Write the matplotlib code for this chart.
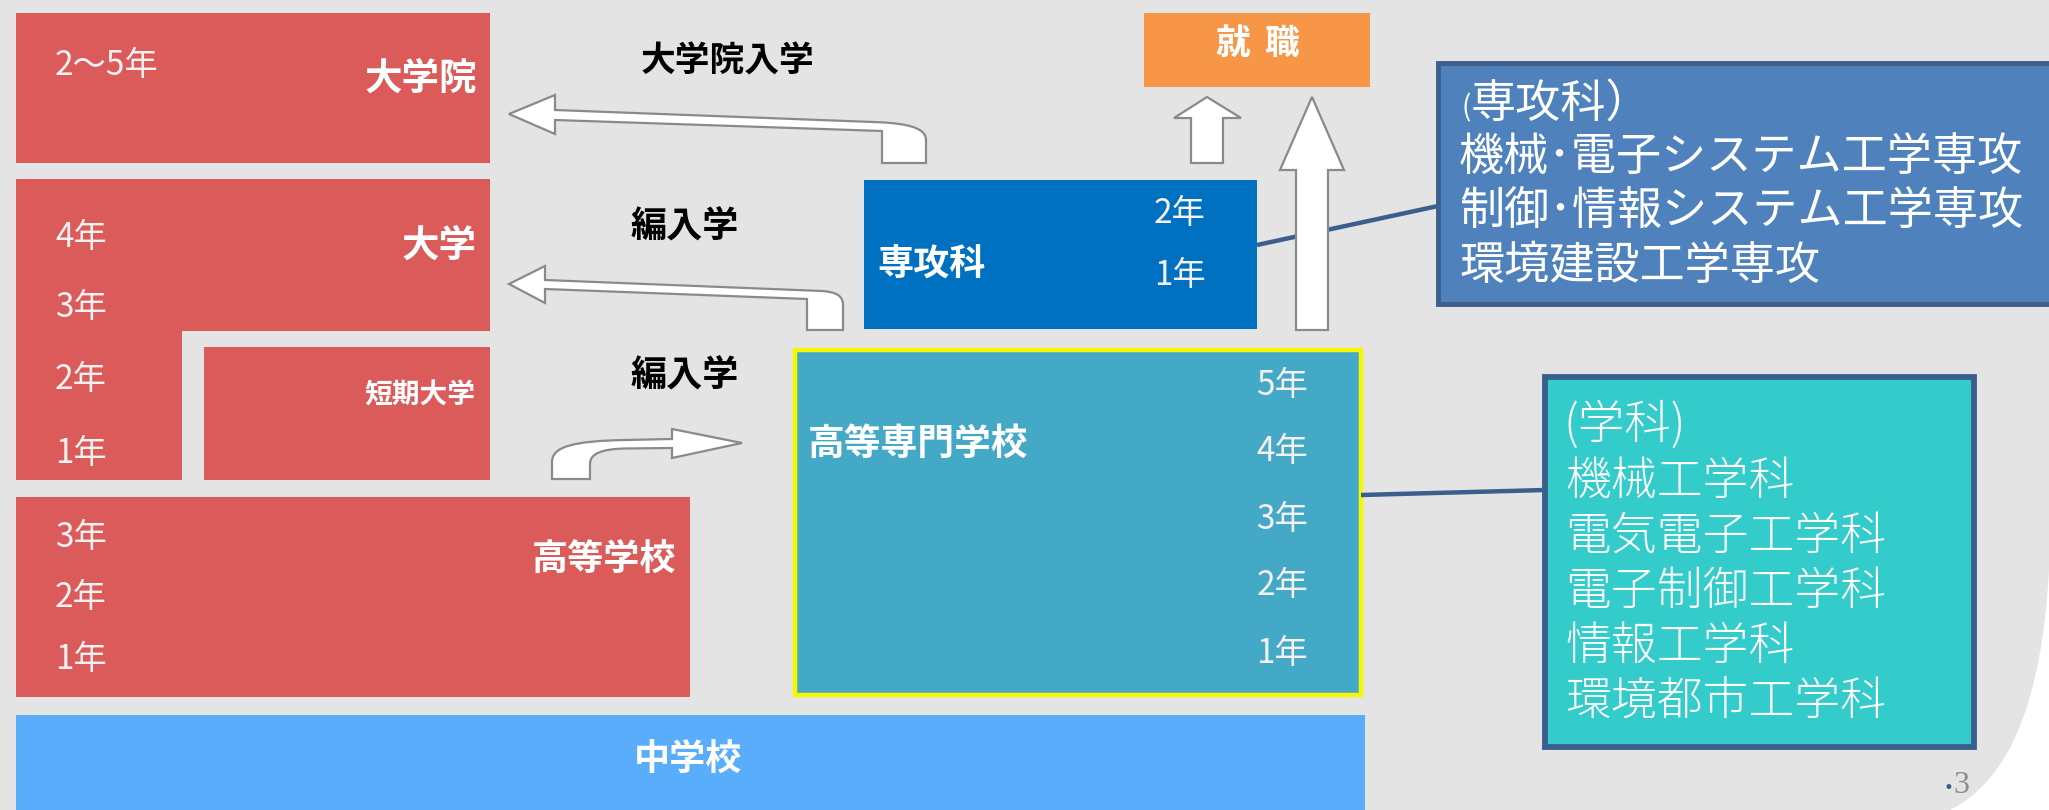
"""
Diagram: route from 中学校 through 高等専門学校 / 専攻科 to 大学・大学院・就職.
Coordinates are pixels of the 2049x810 slide, y grows downwards.
"""

import matplotlib
matplotlib.use("Agg")
import matplotlib.pyplot as plt
from matplotlib.patches import Rectangle, Polygon, PathPatch
from matplotlib.path import Path

plt.rcParams["font.family"] = ["Noto Sans CJK JP", "DejaVu Sans"]

# ── Text content ──────────────────────────────────────────────────────────────
UNIV_YEARS    = ["4年", "3年", "2年", "1年"]
HIGH_YEARS    = ["3年", "2年", "1年"]
SENKO_YEARS   = ["2年", "1年"]
KOSEN_YEARS   = ["5年", "4年", "3年", "2年", "1年"]
SENKO_COURSES = ["機械･電子システム工学専攻", "制御･情報システム工学専攻", "環境建設工学専攻"]
DEPARTMENTS   = ["機械工学科", "電気電子工学科", "電子制御工学科", "情報工学科", "環境都市工学科"]

# ── Colours ───────────────────────────────────────────────────────────────────
BG      = "#E4E4E4"
RED     = "#DB5B5B"
JHS     = "#5AADFB"
SENKO   = "#0070C0"
JOB     = "#F79646"
KOSEN   = "#43A9C7"
YELLOW  = "#F7F700"
TEAL    = "#33CCCA"
INFO    = "#4F81BD"
NAVY    = "#3B5E8C"
ARROW_E = "#8A8A8A"
WHITE   = "white"
YEAR_C  = "#F6F1F1"

fig = plt.figure(figsize=(20.49, 8.10), dpi=100, facecolor=BG)
ax = fig.add_axes([0, 0, 1, 1])
ax.set_xlim(0, 2049)
ax.set_ylim(810, 0)
ax.axis("off")
ax.set_facecolor(BG)

# white rounded corner, bottom right
corner = Path([(2049, 570), (2042, 700), (2010, 780), (1950, 810),
               (2049, 810), (2049, 570)],
              [Path.MOVETO, Path.CURVE4, Path.CURVE4, Path.CURVE4,
               Path.LINETO, Path.CLOSEPOLY])
ax.add_patch(PathPatch(corner, facecolor=WHITE, edgecolor="none", zorder=0))


def box(x0, y0, x1, y1, fc, ec="none", lw=0, z=2):
    ax.add_patch(Rectangle((x0, y0), x1 - x0, y1 - y0, facecolor=fc,
                           edgecolor=ec, linewidth=lw, zorder=z))


# ── Left column: 大学院 / 大学 / 短期大学 / 高等学校 / 中学校 ──────────────────
box(16, 13, 490, 163, RED)
ax.add_patch(Polygon([(16, 179), (490, 179), (490, 331), (182, 331),
                      (182, 480), (16, 480)], closed=True,
                     facecolor=RED, edgecolor="none", zorder=2))
box(204, 347, 490, 480, RED)
box(16, 497, 690, 697, RED)
box(16, 715, 1365, 815, JHS)

# ── Middle / right blocks ─────────────────────────────────────────────────────
box(864, 180, 1257, 329, SENKO)
box(1144, 13, 1370, 87, JOB)
box(795, 350, 1361, 695, KOSEN, ec=YELLOW, lw=3.2, z=3)
box(1545, 377, 1974, 747, TEAL, ec=NAVY, lw=4.2, z=3)
box(1438, 63, 2060, 304, INFO, ec=NAVY, lw=3.5, z=3)

# connector lines
ax.plot([1257, 1438], [245, 206], color=NAVY, lw=3.2, zorder=4,
        solid_capstyle="butt")
ax.plot([1361, 1545], [495, 490], color=NAVY, lw=3.2, zorder=4,
        solid_capstyle="butt")

# ── Block arrows ──────────────────────────────────────────────────────────────
M, L, C = Path.MOVETO, Path.LINETO, Path.CURVE4


def arrow(verts, codes):
    ax.add_patch(PathPatch(Path(verts, codes), facecolor=WHITE,
                           edgecolor=ARROW_E, linewidth=1.6, zorder=5))


# 専攻科 -> 大学院
arrow([(509, 114), (555, 95), (555, 110), (873, 122),
       (905, 123), (926, 127), (926, 140),
       (926, 163), (882, 163), (882, 131), (555, 120), (555, 134), (509, 114)],
      [M, L, L, L, C, C, C, L, L, L, L, L, Path.CLOSEPOLY])

# 高専 -> 大学 (編入学)
arrow([(509, 284), (545, 266), (545, 280), (822, 291),
       (835, 292), (843, 295), (843, 305),
       (843, 330), (807, 330), (807, 299), (545, 289), (545, 303), (509, 284)],
      [M, L, L, L, C, C, C, L, L, L, L, L, Path.CLOSEPOLY])

# 短期大学 -> 高専 (編入学)
arrow([(742, 443), (672, 429), (672, 439), (625, 440),
       (572, 441), (552, 447), (552, 462),
       (552, 479), (590, 479), (590, 464),
       (590, 453), (603, 449), (625, 448.5),
       (672, 448), (672, 458), (742, 443)],
      [M, L, L, L, C, C, C, L, L, L, C, C, C, L, L, Path.CLOSEPOLY])

# up to 就職
arrow([(1207, 97), (1241, 118), (1223, 118), (1223, 163), (1191, 163),
       (1191, 118), (1174, 118), (1207, 97)],
      [M, L, L, L, L, L, L, Path.CLOSEPOLY])
arrow([(1312, 97), (1344, 170), (1328, 170), (1328, 330), (1296, 330),
       (1296, 170), (1280, 170), (1312, 97)],
      [M, L, L, L, L, L, L, Path.CLOSEPOLY])

# ── Labels ────────────────────────────────────────────────────────────────────
BOLD = dict(fontweight="bold", zorder=6)
YR = 24
ax.text(55, 66, "2～5年", fontsize=YR, color=YEAR_C, va="center", zorder=6)
ax.text(477, 78, "大学院", fontsize=27, color=WHITE, ha="right", va="center", **BOLD)
ax.text(477, 245, "大学", fontsize=27, color=WHITE, ha="right", va="center", **BOLD)
ax.text(475, 395, "短期大学", fontsize=20, color=WHITE, ha="right", va="center", **BOLD)
ax.text(676, 560, "高等学校", fontsize=26, color=WHITE, ha="right", va="center", **BOLD)
ax.text(688, 760, "中学校", fontsize=26, color=WHITE, ha="center", va="center", **BOLD)
ax.text(877, 265, "専攻科", fontsize=26, color=WHITE, ha="left", va="center", **BOLD)
ax.text(808, 444, "高等専門学校", fontsize=26.5, color=WHITE, ha="left", va="center", **BOLD)
ax.text(1233, 43, "就", fontsize=25, color=WHITE, ha="center", va="center", **BOLD)
ax.text(1282, 43, "職", fontsize=25, color=WHITE, ha="center", va="center", **BOLD)

ax.text(728, 61, "大学院入学", fontsize=25, color="black", ha="center", va="center", **BOLD)
ax.text(685, 227, "編入学", fontsize=26, color="black", ha="center", va="center", **BOLD)
ax.text(685, 376, "編入学", fontsize=26, color="black", ha="center", va="center", **BOLD)

for lab, y in zip(UNIV_YEARS, [237, 307, 380, 454]):
    ax.text(55, y, lab, fontsize=YR, color=YEAR_C, va="center", zorder=6)
for lab, y in zip(HIGH_YEARS, [537, 598, 660]):
    ax.text(55, y, lab, fontsize=YR, color=YEAR_C, va="center", zorder=6)
for lab, y in zip(SENKO_YEARS, [214, 276]):
    ax.text(1154, y, lab, fontsize=YR, color=YEAR_C, va="center", zorder=6)
for lab, y in zip(KOSEN_YEARS, [386, 452, 519, 586, 654]):
    ax.text(1308, y, lab, fontsize=YR, color=YEAR_C, ha="right", va="center", zorder=6)

# 専攻科 info box
ax.text(1462, 108, "(", fontsize=20, color=WHITE, va="center", zorder=6)
ax.text(1471, 104, "専攻科）", fontsize=32.5, color=WHITE, va="center", zorder=6)
for lab, y in zip(SENKO_COURSES, [157, 212, 266]):
    ax.text(1459, y, lab, fontsize=32.5, color=WHITE, va="center", zorder=6)

# 学科 box
ax.text(1563, 425, "(学科)", fontsize=33.5, color=WHITE, va="center",
        fontweight="light", zorder=6)
for lab, y in zip(DEPARTMENTS, [482, 537, 592, 647, 702]):
    ax.text(1565, y, lab, fontsize=33, color=WHITE, va="center",
            fontweight="light", zorder=6)

# page number
ax.text(1943, 793, "•", fontsize=12, color=NAVY, va="baseline",
        family="DejaVu Sans", zorder=6)
ax.text(1953, 793, "3", fontsize=23, color="#8C8C8C", va="baseline",
        family="Liberation Serif", zorder=6)

fig.savefig("out.png", dpi=100, facecolor=BG)
plt.close(fig)
